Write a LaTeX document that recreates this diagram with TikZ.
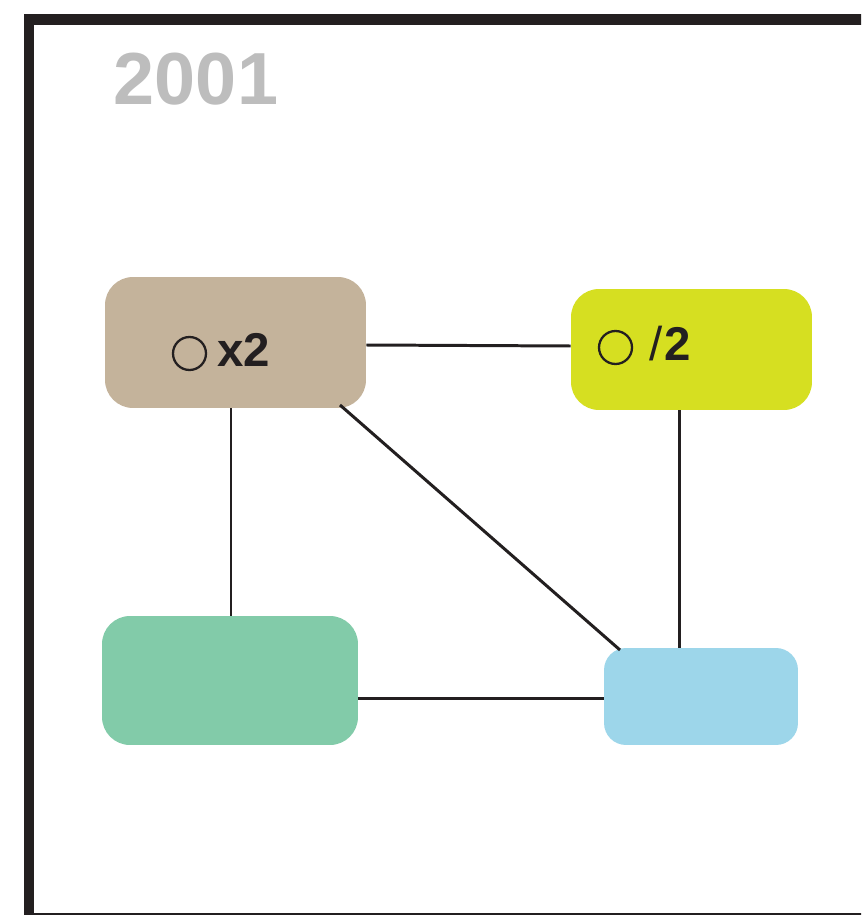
\documentclass[tikz,border=0pt]{standalone}
\usepackage{fontspec}
\setmainfont{Liberation Sans}
\usepackage{xcolor}
\definecolor{framedark}{HTML}{231F20}
\definecolor{tanbox}{HTML}{C4B39B}
\definecolor{limebox}{HTML}{D6DF21}
\definecolor{mintbox}{HTML}{82CBA9}
\definecolor{skybox}{HTML}{9DD6EA}
\definecolor{yeargray}{HTML}{BDBDBD}
\usetikzlibrary{positioning}

\begin{document}
\begin{tikzpicture}[
  x=0.02cm, y=-0.02cm,
  roundbox/.style={rectangle, rounded corners=0.56cm, inner sep=0pt},
  marker/.style={circle, draw=framedark, line width=1.3pt, minimum size=0.66cm, inner sep=0pt},
  factor/.style={font=\fontsize{27}{27}\selectfont\bfseries, text=framedark, inner sep=0pt},
  link/.style={draw=framedark, line width=1.7pt}
]
\useasboundingbox (0,0) rectangle (861,915);
\clip (0,0) rectangle (861,915);
\fill[white] (0,0) rectangle (861,915);
\draw[framedark, line width=6pt] (29,19.5) rectangle (900,918);

\node[font=\fontsize{42}{42}\selectfont\bfseries, text=yeargray, inner sep=0pt] (year) at (196,79) {2001};

\node[roundbox, fill=tanbox, minimum width=5.22cm, minimum height=2.62cm] (double) at (235.5,342.5) {};
\node[roundbox, fill=limebox, minimum width=4.82cm, minimum height=2.42cm] (half) at (691.5,349.5) {};
\node[roundbox, fill=mintbox, minimum width=5.12cm, minimum height=2.58cm] (mint) at (230,680.5) {};
\node[roundbox, fill=skybox, rounded corners=0.44cm, minimum width=3.88cm, minimum height=1.94cm] (sky) at (701,696.5) {};

\node[marker] (dotA) at (189.5,353.5) {};
\node[factor] (timesA) at (244,349.5) {x2};
\node[marker] (dotB) at (615.5,347.5) {};
\node[factor] (divB) at (670.5,344) {\mdseries/\kern1pt\bfseries2};

\draw[link] (double.east |- 0,345) -- (half.west |- 0,346);
\draw[link] (double.south -| 231,0) -- (mint.north -| 231,0);
\draw[link] (340,405) -- (620,650);
\draw[link] (half.south -| 679,0) -- (sky.north -| 679,0);
\draw[link] (mint.east |- 0,698) -- (sky.west |- 0,698);
\end{tikzpicture}
\end{document}
